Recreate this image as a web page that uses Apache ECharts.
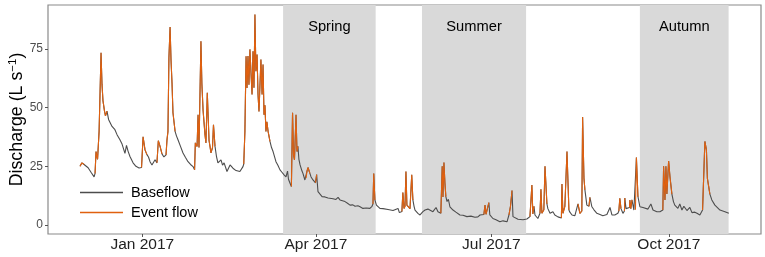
<!DOCTYPE html>
<html>
<head>
<meta charset="utf-8">
<script src="https://cdn.jsdelivr.net/npm/echarts@6/dist/echarts.min.js"></script>
<style>
  html, body { margin: 0; padding: 0; background: #fff; }
  #chart { width: 765px; height: 257px; }
</style>
</head>
<body>
<div id="chart"></div>
<script>
// [day counted from 1 Jan 2017, discharge (L/s), 1 = event flow]
var flowRecord = [
  [-32.3,25.0,1],[-31.3,26.5,1],[-30.2,25.8,1],[-29.2,25.2,0],[-28.1,24.4,0],[-26.6,22.5,0],[-25.0,20.5,0],
  [-24.5,22.0,1],[-24.0,31.3,1],[-23.2,28.0,1],[-22.4,40.0,1],[-21.4,73.4,1],[-20.9,60.0,1],[-20.4,53.0,1],
  [-19.6,48.5,1],[-19.1,46.5,1],[-18.3,48.5,1],[-17.5,45.0,0],[-16.7,45.7,0],[-15.7,42.0,0],[-14.2,40.6,0],
  [-13.1,38.5,0],[-11.6,36.3,0],[-10.5,34.5,0],[-9.0,30.5,0],[-8.2,33.9,0],[-7.4,31.5,0],[-6.4,29.2,0],
  [-4.8,26.5,0],[-3.3,25.0,0],[-1.7,24.3,0],[-0.4,24.5,1],[0.4,37.6,1],[1.4,32.0,1],[2.4,30.0,1],
  [3.2,29.0,0],[4.0,27.0,0],[5.0,25.6,0],[6.6,27.8,0],[7.6,26.5,1],[8.3,35.9,1],[9.2,33.5,1],[10.2,30.3,1],
  [11.2,29.0,0],[12.3,29.9,1],[12.8,36.3,1],[13.3,39.9,1],[13.8,71.2,1],[14.4,84.3,1],[14.9,70.0,1],
  [15.4,60.6,1],[15.9,47.8,1],[17.0,39.9,1],[17.7,38.0,0],[18.5,36.3,0],[19.8,33.5,0],[21.1,30.7,0],
  [22.4,28.8,0],[23.7,27.0,0],[25.0,25.8,0],[26.3,24.9,0],[27.1,23.5,1],[27.5,35.0,1],[28.4,33.5,1],
  [28.9,47.0,1],[29.4,33.0,1],[30.4,78.3,1],[30.9,60.0,1],[31.5,49.0,1],[32.5,38.5,1],[33.0,35.0,1],
  [33.7,56.3,1],[34.6,36.0,1],[35.1,33.5,1],[35.6,30.7,1],[36.4,33.0,1],[36.9,42.7,1],[37.7,33.5,1],
  [38.5,29.0,0],[39.2,26.5,0],[40.8,27.8,0],[41.6,25.5,0],[42.4,26.5,0],[43.9,22.8,0],[45.5,25.6,0],
  [47.0,24.2,0],[48.6,23.2,0],[50.6,22.8,0],[52.2,24.9,0],[52.6,26.0,1],[53.2,39.9,1],[53.8,71.9,1],
  [54.3,58.4,1],[54.8,72.0,1],[55.3,59.8,1],[55.8,74.8,1],[56.4,64.0,1],[56.9,55.6,1],[57.4,74.0,1],
  [57.9,58.5,1],[58.4,89.7,1],[58.9,65.5,1],[59.5,72.6,1],[60.0,55.6,1],[60.5,48.4,1],[61.5,70.5,1],
  [62.1,55.6,1],[62.6,68.4,1],[63.1,47.0,1],[63.6,51.0,1],[64.1,39.9,1],[64.6,44.0,1],[65.2,40.0,1],
  [66.2,35.6,1],[67.0,33.0,0],[67.8,31.3,0],[69.3,27.0,0],[70.3,25.5,0],[71.4,23.5,0],[72.4,22.5,0],
  [73.5,21.4,0],[74.5,20.5,0],[75.3,23.0,0],[75.8,19.5,0],[76.6,17.8,0],[77.3,16.4,1],[77.9,47.8,1],
  [78.4,30.0,1],[78.9,27.8,1],[79.7,47.0,1],[80.2,31.3,1],[80.7,33.5,1],[81.2,28.0,0],[81.8,25.6,0],
  [82.8,23.0,0],[83.3,22.0,0],[84.3,19.2,0],[84.9,20.0,1],[85.4,23.0,1],[85.9,24.5,1],[86.9,22.0,1],
  [87.5,20.5,0],[88.5,19.2,0],[89.8,18.0,1],[90.4,21.5,1],[91.1,14.2,0],[92.1,13.5,0],[93.2,12.1,0],
  [94.7,12.0,0],[96.3,11.5,0],[97.3,11.4,0],[98.9,11.2,0],[100.4,10.9,0],[101.5,11.8,0],[102.5,10.7,0],
  [103.5,11.4,0],[105.1,10.0,0],[106.4,9.3,0],[107.7,8.5,0],[109.2,8.6,0],[110.3,8.0,0],[111.8,8.2,0],
  [112.9,7.8,0],[114.4,7.1,0],[116.0,7.3,0],[118.0,7.1,0],[119.1,8.0,0],[119.6,9.0,1],[120.0,22.0,1],
  [120.6,10.7,1],[121.4,8.5,0],[122.2,7.8,0],[123.2,7.1,0],[124.8,7.0,0],[125.8,6.4,0],[127.4,6.6,0],
  [128.4,6.4,0],[130.0,6.2,0],[131.0,5.7,0],[132.6,7.1,0],[133.3,5.3,0],[134.6,5.8,1],[135.1,13.9,1],
  [135.7,7.1,1],[136.2,8.0,1],[136.7,22.8,1],[137.2,8.5,1],[138.8,7.0,1],[139.7,21.4,1],[140.3,10.7,1],
  [140.9,8.0,0],[141.4,6.4,0],[142.9,5.0,0],[144.0,4.3,0],[145.5,5.7,0],[146.6,6.4,0],[148.1,6.8,0],
  [149.1,7.1,0],[150.7,5.7,0],[151.7,6.0,0],[152.3,7.5,0],[153.3,5.7,0],[154.8,5.0,1],[155.5,25.0,1],
  [155.9,12.0,1],[156.4,26.6,1],[156.9,18.0,1],[157.4,12.1,1],[158.0,10.0,0],[158.7,11.0,0],[159.5,7.8,0],
  [161.1,6.4,0],[162.6,5.5,0],[164.7,4.3,0],[166.3,4.2,0],[168.3,3.6,0],[170.4,3.8,0],[172.5,3.3,0],
  [174.0,3.5,0],[175.1,4.3,0],[176.1,4.5,0],[177.1,4.5,1],[177.7,8.5,1],[178.2,4.6,1],[179.2,5.0,1],
  [179.7,9.6,1],[180.2,4.3,0],[181.8,2.8,0],[183.4,2.3,0],[185.4,1.4,0],[187.0,1.8,0],[189.1,1.4,0],
  [190.1,4.3,1],[190.9,8.0,1],[191.7,14.7,1],[192.2,3.6,0],[193.2,2.8,0],[194.8,2.5,0],[195.8,2.1,0],
  [197.4,2.3,0],[198.4,2.0,0],[199.4,2.6,0],[201.0,3.6,1],[202.0,17.1,1],[202.5,4.7,1],[203.1,8.0,1],
  [203.6,4.3,0],[205.1,2.8,0],[206.2,5.0,1],[206.7,15.2,1],[207.2,5.0,1],[208.2,6.5,1],[208.8,25.0,1],
  [209.8,9.0,1],[210.3,7.0,0],[211.4,5.0,0],[212.9,5.7,0],[213.9,4.3,0],[215.5,3.5,0],[216.5,2.8,0],
  [217.3,3.0,1],[217.6,17.5,1],[218.1,5.0,1],[219.1,8.0,1],[220.2,31.3,1],[221.2,6.4,1],[221.7,5.5,0],
  [222.8,4.3,0],[224.3,4.0,0],[225.3,4.3,0],[225.9,9.0,1],[226.9,5.0,1],[227.9,6.0,1],[228.3,46.0,1],
  [229.0,20.0,1],[229.5,15.0,1],[230.5,8.5,0],[231.6,8.0,1],[232.1,11.8,1],[233.1,7.8,0],[234.2,6.5,0],
  [235.7,5.0,0],[237.3,4.5,0],[238.8,4.0,0],[240.9,4.5,0],[242.5,7.5,0],[243.5,4.3,0],[245.0,4.3,0],
  [246.6,5.0,0],[247.1,6.0,1],[247.6,11.4,1],[248.2,7.0,1],[249.2,5.0,0],[250.0,6.0,1],[250.2,11.5,1],
  [250.8,7.0,0],[251.8,7.5,0],[252.6,7.5,1],[252.8,10.7,1],[253.3,7.0,1],[253.9,10.7,1],[254.9,6.4,0],
  [255.7,6.5,1],[256.2,28.8,1],[257.0,12.1,1],[258.0,7.8,0],[259.6,7.5,0],[260.6,7.1,0],[262.2,6.8,0],
  [263.2,6.4,0],[263.7,9.0,0],[264.8,6.4,0],[266.8,5.7,0],[268.4,5.7,0],[269.4,5.5,0],[269.9,6.4,1],
  [270.3,25.0,1],[271.0,10.7,1],[271.5,25.0,1],[272.0,13.2,1],[272.9,27.3,1],[273.6,20.6,1],[274.6,13.2,1],
  [275.4,10.0,0],[276.1,8.5,0],[277.7,7.1,0],[278.7,9.0,0],[279.8,6.4,0],[280.8,8.0,0],[282.4,6.2,0],
  [283.9,7.5,0],[285.0,5.3,0],[286.5,5.5,0],[287.6,5.0,0],[289.1,4.3,0],[290.5,6.4,1],[291.7,35.6,1],
  [292.5,32.0,1],[293.0,19.9,1],[293.8,19.2,1],[294.3,13.2,1],[295.3,10.7,0],[296.9,8.5,0],[297.9,9.0,0],
  [299.5,6.4,0],[300.5,6.2,0],[302.1,5.7,0],[304.1,5.0,0]
];

var seasons = [
  ['Spring', '2017-03-15', '2017-05-02'],
  ['Summer', '2017-05-26', '2017-07-19'],
  ['Autumn', '2017-09-16', '2017-11-01']
];

var xTicks = ['2017-01-01', '2017-04-01', '2017-07-01', '2017-10-01'];
var yTicks = [0, 25, 50, 75];
var xRangeDays = [-48.9, 320.8];
var yRange = [-3.8, 93.7];
var monthNames = ['Jan','Feb','Mar','Apr','May','Jun','Jul','Aug','Sep','Oct','Nov','Dec'];

// x axis runs in days since 1 Jan 2017
var dayMs = 86400000;
function dayOf(s) {
  var p = s.split('-');
  return Math.round((Date.UTC(+p[0], +p[1] - 1, +p[2]) - Date.UTC(2017, 0, 1)) / dayMs);
}
function dayLabel(d) {
  var t = new Date(Date.UTC(2017, 0, 1) + Math.round(d) * dayMs);
  return monthNames[t.getUTCMonth()] + ' ' + t.getUTCFullYear();
}

var baseData = flowRecord.map(function (r) { return [r[0], r[1]]; });
var eventData = flowRecord.map(function (r) { return [r[0], r[2] ? r[1] : null]; });
var xTickDays = xTicks.map(dayOf);

var chart = echarts.init(document.getElementById('chart'));
chart.setOption({
  animation: false,
  grid: {
    left: 48, right: 4, top: 5, bottom: 23,
    outerBoundsMode: 'none', containLabel: false,
    show: true, borderColor: '#8a8a8a', borderWidth: 1.2, backgroundColor: 'transparent'
  },
  legend: {
    left: 75, top: 180, orient: 'vertical',
    icon: 'rect', itemWidth: 43, itemHeight: 1.6, itemGap: 5,
    textStyle: { fontFamily: 'Liberation Sans', fontSize: 14.5, color: '#000', padding: [0, 0, 0, 3] },
    data: ['Baseflow', 'Event flow']
  },
  xAxis: {
    type: 'value',
    min: xRangeDays[0], max: xRangeDays[1],
    splitLine: { show: false },
    axisLine: { show: false, onZero: false },
    axisTick: { show: true, length: 3, lineStyle: { color: '#555' }, customValues: xTickDays },
    axisLabel: {
      customValues: xTickDays,
      margin: 3,
      fontFamily: 'Liberation Sans', fontSize: 15.5, color: '#222',
      formatter: dayLabel
    }
  },
  yAxis: {
    type: 'value',
    min: yRange[0], max: yRange[1],
    splitLine: { show: false },
    axisLine: { show: false, onZero: false },
    axisTick: { show: true, length: 3, lineStyle: { color: '#555' }, customValues: yTicks },
    axisLabel: { customValues: yTicks, margin: 5, fontFamily: 'Liberation Sans', fontSize: 12, color: '#4d4d4d' },
    name: 'Discharge (L s{sup|−1})',
    nameLocation: 'middle',
    nameGap: 20,
    nameMoveOverlap: false,
    nameTextStyle: {
      fontFamily: 'Liberation Sans', fontSize: 17.8, color: '#000',
      rich: { sup: { fontFamily: 'Liberation Sans', fontSize: 11.5, color: '#000', padding: [0, 0, 9, 0] } }
    }
  },
  series: [
    {
      name: 'Baseflow', type: 'line', data: baseData,
      symbol: 'none', showSymbol: false,
      lineStyle: { color: '#4d4d4d', width: 1.1 },
      itemStyle: { color: '#4d4d4d' },
      z: 3,
      markArea: {
        silent: true,
        itemStyle: { color: '#d9d9d9' },
        label: { position: 'insideTop', distance: 14, fontFamily: 'Liberation Sans', fontSize: 14.7, color: '#000' },
        data: seasons.map(function (s) {
          return [{ name: s[0], xAxis: dayOf(s[1]), yAxis: yRange[1] }, { xAxis: dayOf(s[2]), yAxis: yRange[0] }];
        })
      }
    },
    {
      name: 'Event flow', type: 'line', data: eventData,
      symbol: 'none', showSymbol: false, connectNulls: false,
      lineStyle: { color: '#e0600f', width: 1.1 },
      itemStyle: { color: '#e0600f' },
      z: 4
    }
  ]
});
</script>
</body>
</html>
